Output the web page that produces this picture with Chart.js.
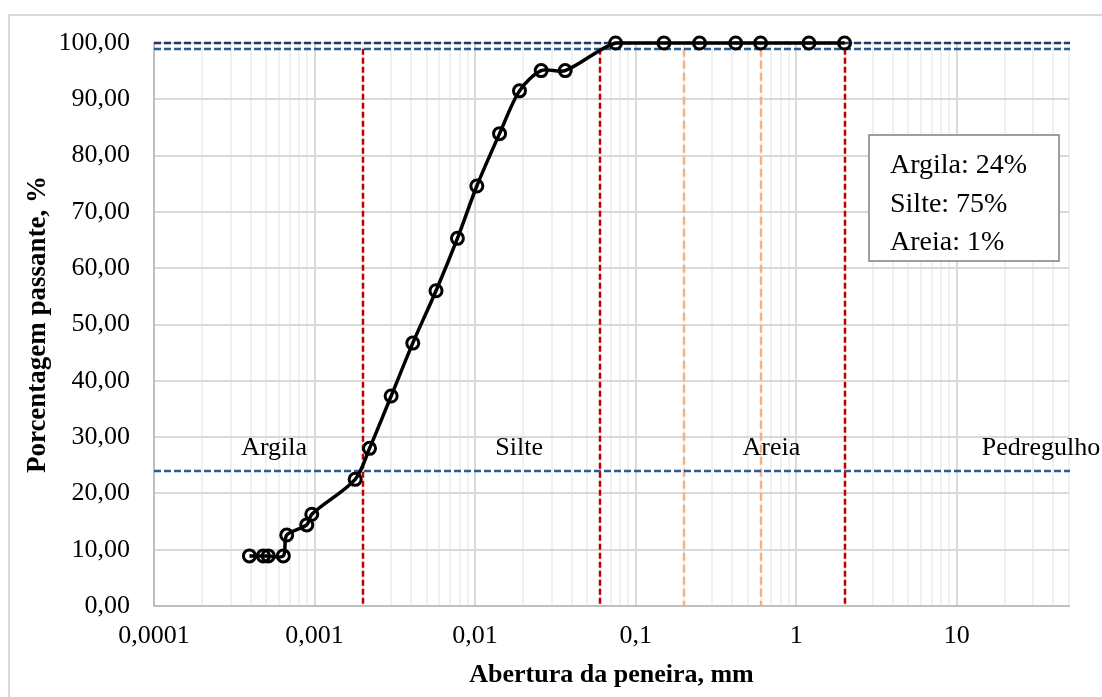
<!DOCTYPE html>
<html><head><meta charset="utf-8">
<script src="https://cdn.jsdelivr.net/npm/chart.js@4.4.0/dist/chart.umd.min.js"></script>
<style>html,body{margin:0;padding:0;background:#fff;} canvas{display:block;}</style>
</head><body>
<canvas id="c" width="1102" height="697"></canvas>
<script>
// ---- data ----
const aberturaMm = [0.000393, 0.00048, 0.000515, 0.000639, 0.000671, 0.000894, 0.000961, 0.00179, 0.0022, 0.0030, 0.00409, 0.00571, 0.00776, 0.01025, 0.0142, 0.0189, 0.0258, 0.0364, 0.075, 0.15, 0.25, 0.42, 0.6, 1.2, 2.0];
const passantePct = [8.9, 8.9, 8.9, 8.9, 12.6, 14.4, 16.3, 22.5, 28.0, 37.3, 46.7, 56.0, 65.3, 74.6, 83.9, 91.5, 95.1, 95.1, 100, 100, 100, 100, 100, 100, 100];
const xTickValues = [0.0001, 0.001, 0.01, 0.1, 1, 10];
const xTickLabels = ['0,0001', '0,001', '0,01', '0,1', '1', '10'];
const yTickValues = [0, 10, 20, 30, 40, 50, 60, 70, 80, 90, 100];
const yTickLabels = ['0,00', '10,00', '20,00', '30,00', '40,00', '50,00', '60,00', '70,00', '80,00', '90,00', '100,00'];
const limitesFaixas = [0.002, 0.06, 2];
const limitesAreia = [0.2, 0.6];
const linhasHorizontais = [100, 99, 24];
const faixasNomes = ['Argila', 'Silte', 'Areia', 'Pedregulho'];
const fracoesNomes = ['Argila', 'Silte', 'Areia'];
const fracoesPct = [24, 75, 1];

const X_MIN = 0.0001, X_MAX = 50;
const SERIF = '"Liberation Serif", "Times New Roman", serif';

// all log grid positions (1..9 x 10^n)
const xGridValues = [];
for (let e = -4; e <= 1; e++) {
  for (let m = 1; m <= 9; m++) {
    const v = parseFloat((m * Math.pow(10, e)).toPrecision(3));
    if (v >= X_MIN && v <= X_MAX) xGridValues.push(v);
  }
}
const isDecade = v => xTickValues.some(t => Math.abs(t - v) / t < 1e-6);

function dashedLine(ctx, x1, y1, x2, y2, color, dash, w) {
  ctx.beginPath();
  ctx.strokeStyle = color;
  ctx.lineWidth = w;
  ctx.setLineDash(dash);
  ctx.moveTo(x1, y1);
  ctx.lineTo(x2, y2);
  ctx.stroke();
}

const framePlugin = {
  id: 'frame',
  beforeDraw(chart) {
    const ctx = chart.ctx;
    ctx.save();
    ctx.fillStyle = '#fff';
    ctx.fillRect(0, 0, chart.width, chart.height);
    ctx.strokeStyle = '#d9d9d9';
    ctx.lineWidth = 2;
    ctx.strokeRect(9, 15, chart.width + 20, chart.height + 20);
    ctx.restore();
  }
};

const refPlugin = {
  id: 'refs',
  beforeDatasetsDraw(chart) {
    const { ctx, chartArea: a, scales: { x, y } } = chart;
    ctx.save();
    const yTop = y.getPixelForValue(99);
    limitesAreia.forEach(v => {
      const px = Math.round(x.getPixelForValue(v));
      dashedLine(ctx, px, yTop, px, a.bottom, '#F4B183', [8, 4], 2.5);
    });
    limitesFaixas.forEach(v => {
      const px = Math.round(x.getPixelForValue(v));
      dashedLine(ctx, px, yTop, px, a.bottom, '#C00000', [6, 3], 2.5);
    });
    linhasHorizontais.forEach((v, i) => {
      const py = Math.round(y.getPixelForValue(v));
      dashedLine(ctx, a.left, py, a.right + 1, py, i === 0 ? '#1F3864' : '#2E5C8A', [7, 3], 2.5);
    });
    ctx.restore();
  },
  afterDatasetsDraw(chart) {
    const { ctx, chartArea: a, scales: { x, y } } = chart;
    ctx.save();
    ctx.setLineDash([]);
    // region names
    const centers = [0.00056, 0.0188, 0.70, 33.5];
    ctx.font = '26px ' + SERIF;
    ctx.fillStyle = '#000';
    ctx.textAlign = 'center';
    ctx.textBaseline = 'alphabetic';
    const by = y.getPixelForValue(24) - 16;
    faixasNomes.forEach((t, i) => ctx.fillText(t, x.getPixelForValue(centers[i]), by));
    // composition box
    const bx = a.right - 200, bt = a.top + 92, bw = 190, bh = 126;
    ctx.fillStyle = '#fff';
    ctx.fillRect(bx, bt, bw, bh);
    ctx.strokeStyle = '#808080';
    ctx.lineWidth = 1.5;
    ctx.strokeRect(bx, bt, bw, bh);
    ctx.fillStyle = '#000';
    ctx.textAlign = 'left';
    ctx.font = '28px ' + SERIF;
    fracoesNomes.forEach((n, i) => ctx.fillText(n + ': ' + fracoesPct[i] + '%', bx + 21, bt + 38 + i * 38.5));
    ctx.restore();
  }
};

new Chart(document.getElementById('c'), {
  type: 'line',
  data: {
    datasets: [{
      data: aberturaMm.map((v, i) => ({ x: v, y: passantePct[i] })),
      borderColor: '#000',
      borderWidth: 3.5,
      tension: 0.3,
      pointRadius: 6,
      pointBorderWidth: 3,
      pointBorderColor: '#000',
      pointBackgroundColor: 'rgba(0,0,0,0)',
      clip: false
    }]
  },
  plugins: [framePlugin, refPlugin],
  options: {
    responsive: false,
    devicePixelRatio: 1,
    animation: false,
    layout: { padding: { top: 43, right: 33, bottom: 0, left: 0 } },
    plugins: { legend: { display: false }, tooltip: { enabled: false } },
    scales: {
      x: {
        type: 'logarithmic',
        min: X_MIN, max: X_MAX,
        afterBuildTicks: s => { s.ticks = xGridValues.map(v => ({ value: v, major: isDecade(v) })); },
        afterFit: s => { s.height = 91; },
        ticks: {
          autoSkip: false, maxRotation: 0, minRotation: 0, padding: 15,
          color: '#000', font: { family: SERIF, size: 26 },
          callback: v => { const i = xTickValues.findIndex(t => Math.abs(t - v) / t < 1e-6); return i >= 0 ? xTickLabels[i] : ''; }
        },
        grid: {
          drawTicks: false,
          lineWidth: 2,
          color: c => (c.tick && isDecade(c.tick.value)) ? '#d9d9d9' : '#f0f0f0'
        },
        border: { color: '#bfbfbf', width: 2 },
        title: {
          display: true, text: 'Abertura da peneira, mm', color: '#000',
          font: { family: SERIF, size: 26, weight: 'bold' }, padding: { top: 0, bottom: 6 }
        }
      },
      y: {
        min: 0, max: 100,
        afterBuildTicks: s => { s.ticks = yTickValues.map(v => ({ value: v })); },
        afterFit: s => { s.width = 154; },
        ticks: {
          padding: 24, color: '#000', font: { family: SERIF, size: 26 },
          callback: v => { const i = yTickValues.indexOf(v); return i >= 0 ? yTickLabels[i] : ''; }
        },
        grid: { drawTicks: false, lineWidth: 2, color: '#d9d9d9' },
        border: { color: '#bfbfbf', width: 2 },
        title: {
          display: true, text: 'Porcentagem passante, %', color: '#000',
          font: { family: SERIF, size: 27, weight: 'bold' }, padding: { top: 22, bottom: 0 }
        }
      }
    }
  }
});
</script>
</body></html>
